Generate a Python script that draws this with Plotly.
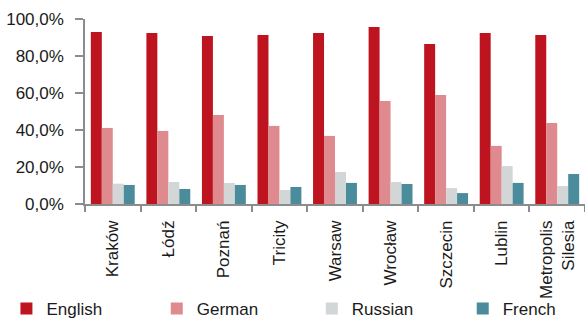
import plotly.graph_objects as go

cities = ["Kraków", "Łódź", "Poznań", "Tricity", "Warsaw", "Wrocław", "Szczecin", "Lublin", "Metropolis<br>Silesia"]
english = [93.0, 92.4, 90.8, 91.4, 92.4, 95.7, 86.5, 92.4, 91.4]
german = [41.1, 39.5, 48.1, 42.2, 36.8, 55.7, 58.9, 31.4, 43.8]
russian = [11.0, 11.9, 11.4, 7.6, 17.3, 11.9, 8.6, 20.5, 9.7]
french = [10.3, 8.1, 10.3, 9.2, 11.4, 10.8, 5.9, 11.4, 16.2]

series_names = ["English", "German", "Russian", "French"]
series_values = [english, german, russian, french]
colors = ["#BE141F", "#DF8A8F", "#D3D6D7", "#4A8C9B"]
legend_ids = ["legend", "legend2", "legend3", "legend4"]
legend_x = [0.011, 0.268, 0.533, 0.791]

y_tick_vals = [0, 20, 40, 60, 80, 100]
y_tick_text = ["0,0%", "20,0%", "40,0%", "60,0%", "80,0%", "100,0%"]

FONT = "Liberation Sans, Arial, sans-serif"
FS = 17

fig = go.Figure()
for name, vals, col, lid in zip(series_names, series_values, colors, legend_ids):
    fig.add_trace(go.Bar(x=cities, y=vals, name=name, legend=lid,
                         marker=dict(color=col, line=dict(width=0))))

legend_common = dict(orientation="h", xref="container", y=0.0, yref="container",
                     xanchor="left", yanchor="bottom",
                     font=dict(family=FONT, size=FS, color="#1a1a1a"),
                     bgcolor="rgba(0,0,0,0)")

fig.update_layout(
    width=585, height=327,
    margin=dict(l=85, r=0, t=19, b=123, autoexpand=False),
    paper_bgcolor="white", plot_bgcolor="white",
    barmode="group", bargap=0.21, bargroupgap=0,
    font=dict(family=FONT, size=FS, color="#1a1a1a"),
    showlegend=True,
)
fig.update_layout({lid: dict(x=lx, **legend_common) for lid, lx in zip(legend_ids, legend_x)})

fig.update_xaxes(
    showline=True, linecolor="#8c8c8c", linewidth=1.5,
    ticks="outside", ticklen=6, tickcolor="#8c8c8c", tickwidth=1.5,
    tickson="boundaries", tickangle=-90, automargin=False,
    ticklabelstandoff=8,
    showgrid=False, zeroline=False,
    tickfont=dict(family=FONT, size=FS, color="#1a1a1a"),
)
fig.update_yaxes(
    range=[0, 100], tickvals=y_tick_vals, ticktext=y_tick_text,
    showline=True, linecolor="#8c8c8c", linewidth=1.5,
    ticks="outside", ticklen=8, tickcolor="#8c8c8c", tickwidth=1.5,
    ticklabelstandoff=8,
    showgrid=False, zeroline=False, automargin=False,
    tickfont=dict(family=FONT, size=FS, color="#1a1a1a"),
)
fig.write_html("out.html")
